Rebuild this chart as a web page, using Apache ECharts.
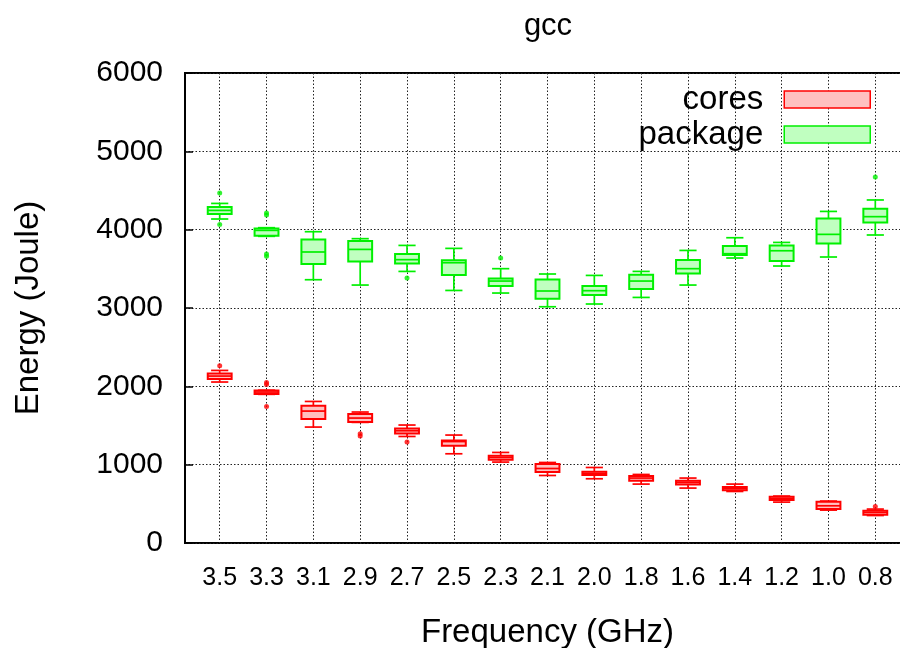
<!DOCTYPE html>
<html>
<head>
<meta charset="utf-8">
<script src="https://cdn.jsdelivr.net/npm/echarts@6/dist/echarts.min.js"></script>
<style>
  html, body { margin: 0; padding: 0; background: #fff; }
  #chart { width: 900px; height: 648px; }
</style>
</head>
<body>
<div id="chart"></div>
<script>
// ---- data ----
const frequencies = ['3.5','3.3','3.1','2.9','2.7','2.5','2.3','2.1','2.0','1.8','1.6','1.4','1.2','1.0','0.8'];
const yTicks = [0, 1000, 2000, 3000, 4000, 5000, 6000];

const coresLow  = [2055, 1898, 1480, 1540, 1360, 1139, 1033, 862, 820, 752, 701, 658, 522, 420, 351];
const coresQ1   = [2093, 1901, 1582, 1544, 1398, 1241, 1062, 905, 867, 794, 747, 675, 548, 433, 360];
const coresMed  = [2131, 1927, 1684, 1595, 1433, 1295, 1092, 951, 888, 829, 773, 696, 568, 475, 390];
const coresQ3   = [2165, 1947, 1752, 1646, 1462, 1309, 1114, 1008, 909, 854, 794, 714, 590, 526, 411];
const coresHigh = [2203, 1950, 1807, 1672, 1506, 1378, 1156, 1028, 964, 875, 829, 752, 599, 535, 433];
const coresOutliers = [[0, 2263], [1, 2050], [1, 2024], [1, 1743], [3, 1394], [3, 1365], [4, 1288], [14, 466]];

const packageLow  = [4136, 3915, 3361, 3293, 3467, 3224, 3191, 3016, 3051, 3135, 3293, 3638, 3536, 3651, 3932];
const packageQ1   = [4200, 3923, 3562, 3595, 3569, 3421, 3281, 3118, 3166, 3242, 3442, 3676, 3600, 3825, 4093];
const packageMed  = [4246, 3991, 3715, 3748, 3617, 3578, 3344, 3217, 3221, 3344, 3502, 3693, 3731, 3940, 4166];
const packageQ3   = [4289, 4016, 3876, 3855, 3689, 3608, 3378, 3365, 3281, 3425, 3612, 3791, 3799, 4144, 4268];
const packageHigh = [4335, 4025, 3974, 3885, 3799, 3761, 3502, 3434, 3416, 3467, 3735, 3897, 3837, 4233, 4379];
const packageOutliers = [[0, 4468], [0, 4067], [1, 4213], [1, 4187], [1, 3690], [1, 3660], [4, 3383], [6, 3638], [14, 4672]];

// ---- build ----
const FONT = "'Liberation Sans', Arial, Helvetica, sans-serif";

function boxData(low, q1, med, q3, high) {
  return frequencies.map((f, i) => [i, low[i], q1[i], med[i], q3[i], high[i]]);
}

function makeRenderer(stroke, fill) {
  return function (params, api) {
    const i = api.value(0);
    const low = api.coord([i, api.value(1)]);
    const q1 = api.coord([i, api.value(2)]);
    const med = api.coord([i, api.value(3)]);
    const q3 = api.coord([i, api.value(4)]);
    const high = api.coord([i, api.value(5)]);
    const band = api.size([1, 0])[0];
    const bw = band * 0.51;
    const cw = bw * 0.72;
    const x = q1[0];
    const ls = { stroke: stroke, lineWidth: 1.7, fill: null };
    return {
      type: 'group',
      children: [
        { type: 'line', shape: { x1: x, y1: q3[1], x2: x, y2: high[1] }, style: ls },
        { type: 'line', shape: { x1: x, y1: q1[1], x2: x, y2: low[1] }, style: ls },
        { type: 'line', shape: { x1: x - cw / 2, y1: high[1], x2: x + cw / 2, y2: high[1] }, style: ls },
        { type: 'line', shape: { x1: x - cw / 2, y1: low[1], x2: x + cw / 2, y2: low[1] }, style: ls },
        { type: 'rect', shape: { x: x - bw / 2, y: q3[1], width: bw, height: q1[1] - q3[1] },
          style: { fill: fill, stroke: stroke, lineWidth: 2 } },
        { type: 'line', shape: { x1: x - bw / 2, y1: med[1], x2: x + bw / 2, y2: med[1] }, style: ls }
      ]
    };
  };
}

const RED = '#ff0000', RED_FILL = '#ffc0c0';
const GREEN = '#00f000', GREEN_FILL = '#c0ffc0';

const chart = echarts.init(document.getElementById('chart'));
chart.setOption({
  animation: false,
  backgroundColor: '#ffffff',
  textStyle: { fontFamily: FONT },
  title: {
    text: 'gcc', left: 548, top: 11, textAlign: 'center', padding: 0,
    textStyle: { fontFamily: FONT, fontSize: 31, fontWeight: 'normal', color: '#000' }
  },
  legend: {
    orient: 'vertical', align: 'right', right: 24, top: 78,
    itemWidth: 86, itemHeight: 17, itemGap: 2,
    textStyle: { fontFamily: FONT, fontSize: 33, color: '#000', padding: [0, 16, 0, 0] },
    data: [
      { name: 'cores', icon: 'rect', itemStyle: { color: RED_FILL, borderColor: RED, borderWidth: 1.5 } },
      { name: 'package', icon: 'rect', itemStyle: { color: GREEN_FILL, borderColor: GREEN, borderWidth: 1.5 } }
    ],
    selectedMode: false
  },
  grid: [
    { left: 185, top: 73, width: 726, height: 470, show: true, borderColor: '#000', borderWidth: 2,
      backgroundColor: 'transparent', outerBoundsMode: 'none', containLabel: false },
    { left: 219.7, top: 73, width: 655.6, height: 470, outerBoundsMode: 'none', containLabel: false }
  ],
  xAxis: [
    { gridIndex: 0, type: 'value', min: 0, max: 1, show: false },
    {
      gridIndex: 1, type: 'category', data: frequencies, boundaryGap: false,
      axisLine: { show: false }, axisTick: { show: false },
      axisLabel: { fontFamily: FONT, fontSize: 25, color: '#000', margin: 23, interval: 0 },
      splitLine: { show: true, interval: 0, lineStyle: { color: '#222', width: 1, type: [1.5, 2] } },
      name: 'Frequency (GHz)', nameLocation: 'middle', nameGap: 73,
      nameTextStyle: { fontFamily: FONT, fontSize: 33, color: '#000' }
    }
  ],
  yAxis: [
    {
      gridIndex: 0, type: 'value', min: 0, max: 6000, interval: 1000,
      axisLine: { show: true, lineStyle: { color: '#000', width: 2 } },
      axisTick: { show: true, inside: true, length: 8, lineStyle: { color: '#000', width: 1.5 } },
      axisLabel: { fontFamily: FONT, fontSize: 30, color: '#000', margin: 22,
        formatter: v => yTicks.includes(v) ? String(v) : '' },
      splitLine: { show: true, lineStyle: { color: '#222', width: 1, type: [1.5, 2] } },
      name: 'Energy (Joule)', nameLocation: 'middle', nameGap: 140, nameRotate: 90,
      nameTextStyle: { fontFamily: FONT, fontSize: 33, color: '#000' }
    },
    { gridIndex: 1, type: 'value', min: 0, max: 6000, show: false }
  ],
  series: [
    {
      name: 'cores', type: 'custom', xAxisIndex: 1, yAxisIndex: 1,
      renderItem: makeRenderer(RED, RED_FILL),
      encode: { x: 0, y: [1, 2, 3, 4, 5] },
      itemStyle: { color: RED_FILL, borderColor: RED },
      data: boxData(coresLow, coresQ1, coresMed, coresQ3, coresHigh), z: 3
    },
    {
      name: 'cores', type: 'scatter', xAxisIndex: 1, yAxisIndex: 1,
      symbol: 'circle', symbolSize: 5, itemStyle: { color: RED },
      data: coresOutliers, z: 4
    },
    {
      name: 'package', type: 'custom', xAxisIndex: 1, yAxisIndex: 1,
      renderItem: makeRenderer(GREEN, GREEN_FILL),
      encode: { x: 0, y: [1, 2, 3, 4, 5] },
      itemStyle: { color: GREEN_FILL, borderColor: GREEN },
      data: boxData(packageLow, packageQ1, packageMed, packageQ3, packageHigh), z: 3
    },
    {
      name: 'package', type: 'scatter', xAxisIndex: 1, yAxisIndex: 1,
      symbol: 'circle', symbolSize: 5, itemStyle: { color: GREEN },
      data: packageOutliers, z: 4
    }
  ]
});
</script>
</body>
</html>
